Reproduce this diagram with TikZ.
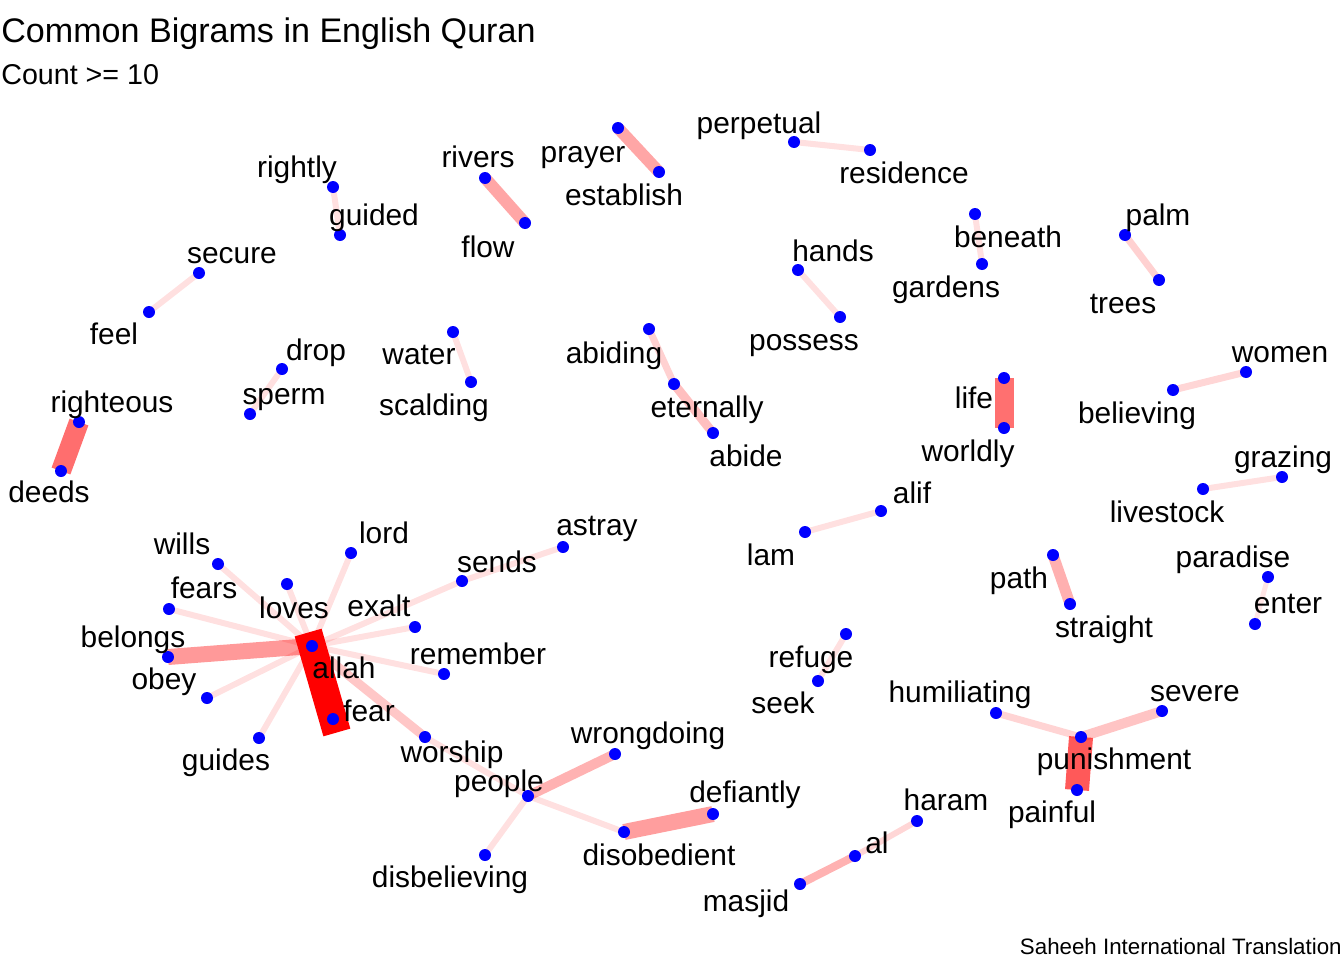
\documentclass[tikz,border=0pt]{standalone}
\usepackage{fontspec}
\setmainfont{Liberation Sans}
\begin{document}
\begin{tikzpicture}[x=0.02cm, y=-0.02cm,
  dot/.style={circle, fill=blue, inner sep=0pt, minimum size=0.24cm},
  word/.style={anchor=base, inner sep=0pt, font=\fontsize{17}{20}\selectfont},
  bigram/.style={draw=red, line cap=butt}]
  \useasboundingbox (0,0) rectangle (1344,960);
  % word positions
  \foreach \name/\x/\y in {rightly/333/187, guided/340/235, rivers/485/178, flow/525/223,
      prayer/618/128, establish/659/172, perpetual/794/142, residence/870/150,
      secure/199/273, feel/149/312, hands/798/270, possess/840/317,
      beneath/975/214, gardens/982/264, palm/1125/235, trees/1159/280,
      drop/282/369, sperm/250/414, water/453/332, scalding/471/382,
      abiding/649/329, eternally/674/384, abide/713/433, life/1004/378, worldly/1004/428,
      women/1246/372, believing/1173/390, righteous/79/422, deeds/61/471,
      grazing/1282/477, livestock/1203/489, alif/881/511, lam/805/532,
      path/1053/555, straight/1070/604, paradise/1268/577, enter/1255/624,
      refuge/846/634, seek/818/681, humiliating/996/713, severe/1162/711,
      punishment/1081/737, painful/1077/790, haram/917/821, al/855/856, masjid/800/884,
      people/528/796, wrongdoing/615/754, disbelieving/485/855, disobedient/624/832,
      defiantly/713/814, allah/312/646, fear/333/719, wills/218/564, loves/287/584,
      fears/169/609, belongs/168/657, obey/207/698, guides/259/738, lord/351/553,
      exalt/415/627, sends/462/581, astray/563/547, remember/444/674, worship/425/737} {
    \coordinate (\name) at (\x,\y);
  }
  % edges: from/to/width in px/opacity
  \foreach \a/\b/\w/\o in {rightly/guided/6/0.12, rivers/flow/12/0.35, prayer/establish/12/0.35,
      perpetual/residence/6/0.12, secure/feel/6/0.12, hands/possess/6/0.12,
      beneath/gardens/6/0.12, palm/trees/7/0.18, drop/sperm/6/0.12, water/scalding/6/0.12,
      abiding/eternally/7/0.18, eternally/abide/9/0.25, life/worldly/19/0.56,
      women/believing/7/0.16, righteous/deeds/20/0.57, livestock/grazing/6/0.12,
      alif/lam/6/0.12, path/straight/11/0.31, paradise/enter/5/0.1, refuge/seek/6/0.12,
      humiliating/punishment/7/0.17, severe/punishment/10/0.23, punishment/painful/24/0.65,
      haram/al/6/0.16, al/masjid/8/0.3, people/wrongdoing/10/0.3, people/disbelieving/6/0.12,
      people/disobedient/6/0.12, disobedient/defiantly/16/0.38, worship/people/6/0.12,
      allah/wills/6/0.12, allah/loves/6/0.12, allah/fears/6/0.12, allah/obey/6/0.12,
      allah/guides/6/0.12, allah/lord/6/0.12, allah/exalt/6/0.12, allah/sends/6/0.12,
      sends/astray/6/0.12, allah/remember/6/0.12, allah/worship/9/0.22,
      allah/belongs/16/0.4} {
    \draw[bigram, line width=\w*0.02cm, draw opacity=\o] (\a) -- (\b);
  }
  \draw[bigram, line width=28*0.02cm, line cap=rect] (allah) -- (fear);
  % dots
  \foreach \name in {rightly, guided, rivers, flow, prayer, establish, perpetual, residence,
      secure, feel, hands, possess, beneath, gardens, palm, trees, drop, sperm, water, scalding,
      abiding, eternally, abide, life, worldly, women, believing, righteous, deeds, grazing,
      livestock, alif, lam, path, straight, paradise, enter, refuge, seek, humiliating, severe,
      punishment, painful, haram, al, masjid, people, wrongdoing, disbelieving, disobedient,
      defiantly, allah, fear, wills, loves, fears, belongs, obey, guides, lord, exalt, sends,
      astray, remember, worship} {
    \node[dot] (d-\name) at (\name) {};
  }
  % labels
  \foreach \name/\x/\y in {rightly/297/177, guided/374/225, rivers/478/167, flow/488/257,
      prayer/583/162, establish/624/205, perpetual/759/133, residence/904/183,
      secure/232/263, feel/114/344, hands/833/261, possess/804/350,
      beneath/1008/247, gardens/946/297, palm/1158/225, trees/1123/313,
      drop/316/360, sperm/284/404, water/419/364, scalding/434/415,
      abiding/614/363, eternally/707/417, abide/746/466, life/974/408, worldly/968/461,
      women/1280/362, believing/1137/423, righteous/112/412, deeds/49/502,
      grazing/1283/467, livestock/1167/522, alif/912/503, lam/771/565,
      path/1019/588, straight/1104/637, paradise/1233/567, enter/1288/613,
      refuge/811/667, seek/783/713, humiliating/960/702, severe/1195/701,
      punishment/1114/769, painful/1052/822, haram/946/810, al/877/853, masjid/746/911,
      people/499/791, wrongdoing/648/743, disbelieving/450/887, disobedient/659/865,
      defiantly/745/802, allah/344/678, fear/369/721, wills/182/554, loves/294/618,
      fears/204/598, belongs/133/647, obey/164/689, guides/226/770, lord/384/543,
      exalt/379/616, sends/497/572, astray/597/535, remember/478/664, worship/452/762} {
    \node[word] (l-\name) at (\x,\y) {\name};
  }
  % titles
  \node[anchor=base west, inner sep=0pt, font=\fontsize{19.4}{23}\selectfont] (title) at (1,42) {Common Bigrams in English Quran};
  \node[anchor=base west, inner sep=0pt, font=\fontsize{16.3}{19}\selectfont] (subtitle) at (1,84) {Count >= 10};
  \node[anchor=base east, inner sep=0pt, font=\fontsize{12.7}{15}\selectfont] (caption) at (1342,954) {Saheeh International Translation};
\end{tikzpicture}
\end{document}
